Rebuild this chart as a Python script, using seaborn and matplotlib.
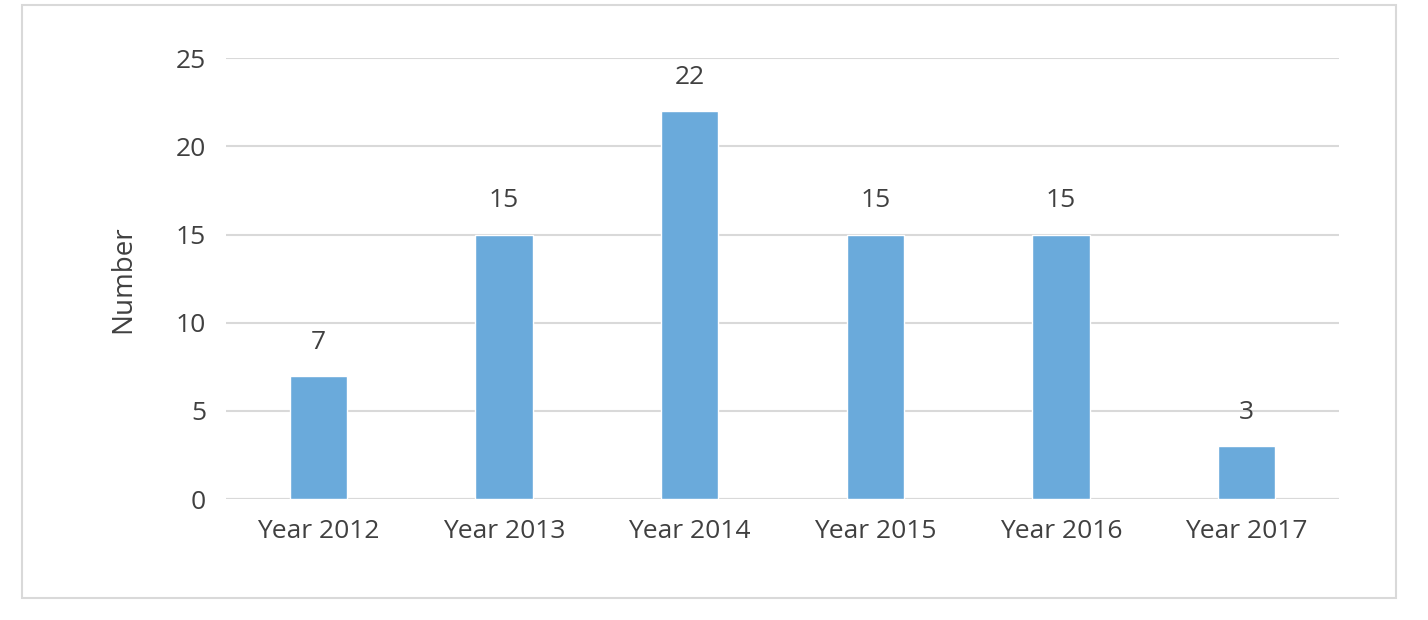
import seaborn as sns
import matplotlib.pyplot as plt
import pandas as pd
from matplotlib.patches import Rectangle

# Data
years = ["Year 2012", "Year 2013", "Year 2014", "Year 2015", "Year 2016", "Year 2017"]
counts = [7, 15, 22, 15, 15, 3]
df = pd.DataFrame({"year": years, "count": counts})

sns.set_theme(style="white")
plt.rcParams["font.family"] = ["Open Sans", "DejaVu Sans"]

fig = plt.figure(figsize=(14.28, 6.2), dpi=100)
ax = fig.add_axes([0.158, 0.195, 0.78, 0.711])

sns.barplot(data=df, x="year", y="count", color="#6aaadb", saturation=1, width=0.31, ax=ax, zorder=3)

ax.set_ylim(0, 25)
ax.set_yticks(range(0, 26, 5))
ax.yaxis.grid(True, color="#d9d9d9", linewidth=1.5, zorder=0)
for s in ax.spines.values():
    s.set_visible(False)
ax.axhline(0, color="#d9d9d9", linewidth=1.5, zorder=1)
ax.tick_params(axis="both", labelsize=19, colors="#404040", length=0, pad=14)
ax.set_xlabel("")
ax.set_ylabel("Number", fontsize=20, color="#404040", labelpad=28)

for i, v in enumerate(counts):
    ax.text(i, v + 1.2, str(v), ha="center", va="bottom", fontsize=19, color="#404040")

fig.patches.append(Rectangle((22 / 1428, 1 - 598 / 620), 1374 / 1428, 593 / 620,
                             transform=fig.transFigure, fill=False, edgecolor="#d9d9d9", linewidth=1.5))

fig.savefig("out.png", dpi=100)
